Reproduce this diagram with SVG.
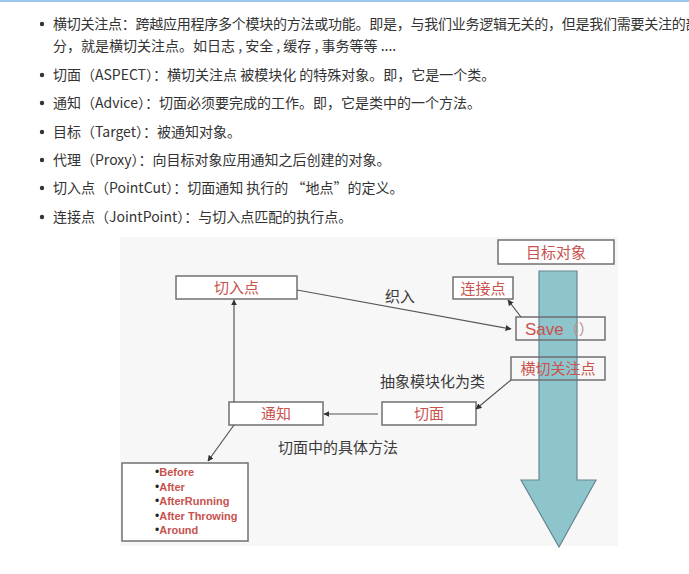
<svg xmlns="http://www.w3.org/2000/svg" width="689" height="574" viewBox="0 0 689 574">
<style>
.body{font-family:"Noto Sans CJK SC","Noto Sans",sans-serif;font-size:14px;fill:#333}
.lbl{font-family:"Noto Sans CJK SC","Noto Sans",sans-serif;font-size:15px;fill:#3a3a3a}
.nt{font-family:"Noto Sans CJK SC","Liberation Sans",sans-serif;font-size:15px;fill:#c8524e;text-anchor:middle}
.box{fill:#fff;stroke:#707070;stroke-width:1.5}
.boxo{fill:none;stroke:#707070;stroke-width:1.5}
.li{font-family:"Liberation Sans",Arial,sans-serif;font-size:11px;font-weight:bold;fill:#c8524e}
.bul{font-family:"Liberation Sans",Arial,sans-serif;font-size:12px;fill:#222}
.con{stroke:#555;stroke-width:1.2;fill:none;marker-end:url(#ah)}
</style>
<defs>
<marker id="ah" viewBox="0 0 10 10" refX="9" refY="5" markerWidth="6" markerHeight="6" markerUnits="userSpaceOnUse" orient="auto">
<path d="M0,0 L10,5 L0,10 Z" fill="#333"/>
</marker>
</defs>
<rect x="0" y="0" width="689" height="574" fill="#fff"/>
<rect x="0" y="0" width="689" height="2" fill="#9cc7ea"/>

<g id="text-list">
<circle cx="42" cy="24" r="2.2" fill="#333"/>
<text class="body" x="53" y="29" letter-spacing="-0.25">横切关注点：跨越应用程序多个模块的方法或功能。即是，与我们业务逻辑无关的，但是我们需要关注的部</text>
<text class="body" x="53" y="51">分，就是横切关注点。如日志 , 安全 , 缓存 , 事务等等 ....</text>
<circle cx="42" cy="75" r="2.2" fill="#333"/>
<text class="body" x="53" y="80">切面（ASPECT）：横切关注点 被模块化 的特殊对象。即，它是一个类。</text>
<circle cx="42" cy="103" r="2.2" fill="#333"/>
<text class="body" x="53" y="108">通知（Advice）：切面必须要完成的工作。即，它是类中的一个方法。</text>
<circle cx="42" cy="132" r="2.2" fill="#333"/>
<text class="body" x="53" y="137">目标（Target）：被通知对象。</text>
<circle cx="42" cy="160" r="2.2" fill="#333"/>
<text class="body" x="53" y="165">代理（Proxy）：向目标对象应用通知之后创建的对象。</text>
<circle cx="42" cy="188" r="2.2" fill="#333"/>
<text class="body" x="53" y="193">切入点（PointCut）：切面通知 执行的 “地点”的定义。</text>
<circle cx="42" cy="217" r="2.2" fill="#333"/>
<text class="body" x="53" y="222">连接点（JointPoint）：与切入点匹配的执行点。</text>
</g>

<rect x="120" y="237" width="498" height="309" fill="#f7f7f7"/>

<g id="target">
<rect class="box" x="498" y="240" width="116" height="24"/>
<text class="nt" x="556" y="257.5">目标对象</text>
</g>

<g id="flow-arrow">
<path d="M539,271 H577 V480 H596 L559,547 L521,480 H539 Z" fill="#8ec5cd" stroke="#66878f" stroke-width="1.2"/>
</g>

<g id="pointcut">
<rect class="box" x="176" y="276" width="121" height="23"/>
<text class="nt" x="236.5" y="293">切入点</text>
</g>

<g id="joinpoint">
<rect class="box" x="453" y="277" width="60" height="22"/>
<text class="nt" x="483" y="293.5">连接点</text>
</g>

<g id="save">
<rect class="boxo" x="516" y="317" width="89" height="23"/>
<text x="525" y="334.5" font-family="Liberation Sans,Arial,sans-serif" font-size="17" fill="#c8524e">Save<tspan font-family="Noto Sans CJK SC,sans-serif" font-size="15" fill="#b88e8c">（）</tspan></text>
</g>

<g id="concern">
<rect class="boxo" x="511" y="357" width="94" height="23"/>
<text class="nt" x="558" y="374">横切关注点</text>
</g>

<g id="aspect">
<rect class="box" x="382" y="402" width="94" height="23"/>
<text class="nt" x="429" y="419">切面</text>
</g>

<g id="advice">
<rect class="box" x="229" y="402" width="94" height="23"/>
<text class="nt" x="276" y="419">通知</text>
</g>

<g id="advice-types">
<rect class="box" x="122" y="463" width="126" height="78"/>
<text x="155" y="476"><tspan class="bul">•</tspan><tspan class="li">Before</tspan></text>
<text x="155" y="491"><tspan class="bul">•</tspan><tspan class="li">After</tspan></text>
<text x="155" y="505"><tspan class="bul">•</tspan><tspan class="li">AfterRunning</tspan></text>
<text x="155" y="520"><tspan class="bul">•</tspan><tspan class="li">After Throwing</tspan></text>
<text x="155" y="534"><tspan class="bul">•</tspan><tspan class="li">Around</tspan></text>
</g>

<g id="connectors">
<line class="con" x1="234" y1="402" x2="234" y2="300"/>
<line class="con" x1="297" y1="290" x2="511" y2="329"/>
<line class="con" x1="521" y1="317" x2="508" y2="300"/>
<line class="con" x1="511" y1="380" x2="476" y2="409"/>
<line class="con" x1="378" y1="414" x2="324" y2="414"/>
<line class="con" x1="234" y1="425" x2="208" y2="461"/>
</g>

<g id="labels">
<text class="lbl" x="385" y="302" font-size="14">织入</text>
<text class="lbl" x="380" y="386.5">抽象模块化为类</text>
<text class="lbl" x="278" y="452.5">切面中的具体方法</text>
</g>
</svg>
